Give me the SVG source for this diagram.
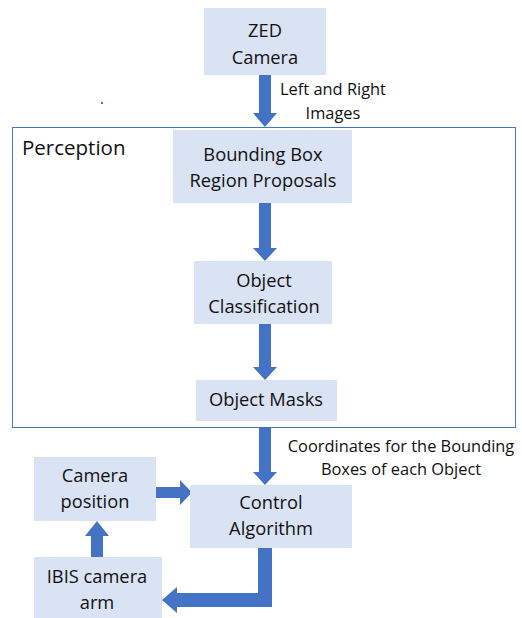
<svg xmlns="http://www.w3.org/2000/svg" width="522" height="618" viewBox="0 0 522 618">
  <style>
    .box { fill: #dae3f3; }
    .lbl { font-family: "Open Sans", "Liberation Sans", sans-serif; font-size: 18.3px; fill: #111; text-anchor: middle; }
    .note { font-family: "Open Sans", "Liberation Sans", sans-serif; font-size: 16.4px; fill: #111; text-anchor: middle; }
    .arrow { fill: #4472c4; }
  </style>
  <rect width="522" height="618" fill="#ffffff"/>

  <!-- Perception frame -->
  <g id="perception">
    <rect x="12.5" y="127.5" width="503" height="300" fill="none" stroke="#4472c4" stroke-width="1"/>
    <text x="22" y="155" font-family="'Open Sans', 'Liberation Sans', sans-serif" font-size="20.5" fill="#111">Perception</text>
  </g>

  <rect x="101" y="102" width="2" height="2" fill="#4472c4"/>

  <g id="connectors" class="arrow">
    <!-- ZED -> Bounding Box -->
    <polygon points="259,75 271,75 271,113 277,113 265,127 253,113 259,113"/>
    <!-- Bounding Box -> Classification -->
    <polygon points="259,203 271,203 271,248 277,248 265,261 253,248 259,248"/>
    <!-- Classification -> Masks -->
    <polygon points="259,324 271,324 271,367 277,367 265,380 253,367 259,367"/>
    <!-- Masks -> Control -->
    <polygon points="259,428 271,428 271,472 277,472 265,485 253,472 259,472"/>
    <!-- Camera position -> Control -->
    <polygon points="156,487 180,487 180,480 192,492.5 180,505 180,498 156,498"/>
    <!-- IBIS arm -> Camera position -->
    <polygon points="91,557 91,536 85,536 97,521 109,536 103,536 103,557"/>
    <!-- Control -> IBIS arm (elbow) -->
    <polygon points="258,548 272,548 272,607 177,607 177,613 162,600 177,587 177,593 258,593"/>
  </g>

  <g id="zed">
    <rect class="box" x="204" y="8" width="122" height="67"/>
    <text class="lbl" x="265" y="37">ZED</text>
    <text class="lbl" x="265" y="64">Camera</text>
  </g>
  <text class="note" x="333" y="95">Left and Right</text>
  <text class="note" x="333" y="119">Images</text>

  <g id="bbox">
    <rect class="box" x="173" y="130" width="179" height="73"/>
    <text class="lbl" x="263" y="161">Bounding Box</text>
    <text class="lbl" x="263" y="187">Region Proposals</text>
  </g>

  <g id="classify">
    <rect class="box" x="194" y="261" width="138" height="63"/>
    <text class="lbl" x="264" y="287">Object</text>
    <text class="lbl" x="264" y="313">Classification</text>
  </g>

  <g id="masks">
    <rect class="box" x="196" y="380" width="141" height="41"/>
    <text class="lbl" x="266" y="406">Object Masks</text>
  </g>

  <text class="note" x="401" y="452">Coordinates for the Bounding</text>
  <text class="note" x="401" y="475">Boxes of each Object</text>

  <g id="control">
    <rect class="box" x="190" y="485" width="162" height="63"/>
    <text class="lbl" x="271" y="509">Control</text>
    <text class="lbl" x="271" y="535">Algorithm</text>
  </g>

  <g id="campos">
    <rect class="box" x="34" y="457" width="122" height="64"/>
    <text class="lbl" x="95" y="482">Camera</text>
    <text class="lbl" x="95" y="508">position</text>
  </g>

  <g id="ibis">
    <rect class="box" x="34" y="557" width="128" height="61"/>
    <text class="lbl" x="97" y="583">IBIS camera</text>
    <text class="lbl" x="97" y="609">arm</text>
  </g>
</svg>
